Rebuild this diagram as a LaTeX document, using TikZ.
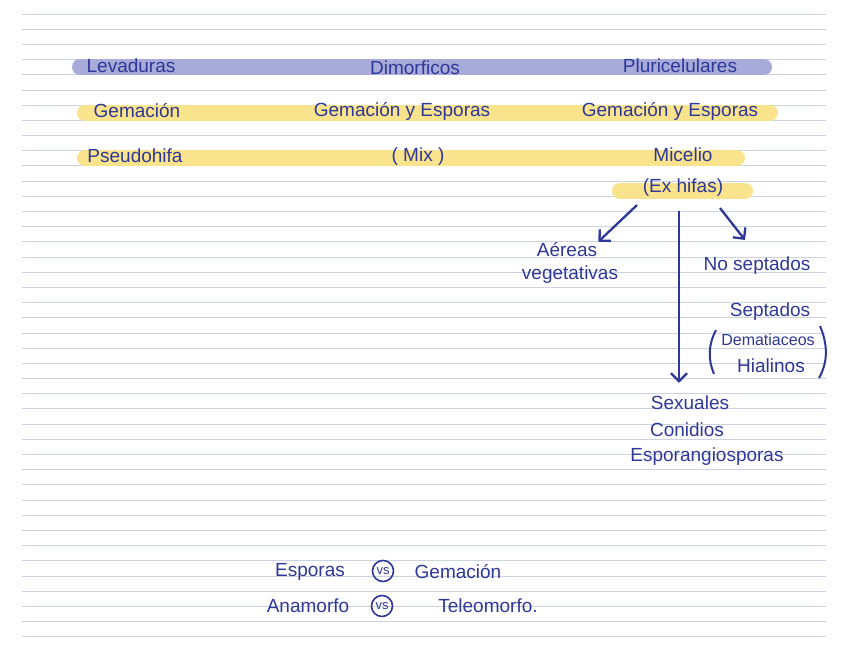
\documentclass[tikz,border=0pt]{standalone}
\usepackage{fontspec}
\setmainfont{Liberation Sans}
\usetikzlibrary{arrows.meta,positioning}
\definecolor{tinta}{RGB}{46,56,152}
\definecolor{lila}{RGB}{168,170,218}
\definecolor{amarillo}{RGB}{249,227,140}
\definecolor{renglon}{RGB}{204,211,224}
\tikzset{
  nota/.style={text=tinta,font=\fontsize{19}{21}\selectfont,inner sep=1pt},
  flecha/.style={draw=tinta,line width=2.3pt,-{Straight Barb[length=8pt,width=16pt]}},
  circulo/.style={draw=tinta,text=tinta,circle,line width=1.6pt,inner sep=0pt,minimum size=21pt,font=\fontsize{13}{14}\selectfont},
  resalte/.style={line width=16pt,line cap=round},
}
\begin{document}
\begin{tikzpicture}[x=1pt,y=-1pt]
\useasboundingbox[fill=white] (0,0) rectangle (848,646);
\foreach \i in {0,...,41}{
\draw[renglon,line width=0.9pt] (22,14+15.19*\i)--(826,14+15.19*\i);
}
\draw[resalte,lila] (80,67)--(764,67);
\draw[resalte,amarillo] (85,113)--(770,113);
\draw[resalte,amarillo] (85,158)--(737,158);
\draw[resalte,amarillo] (620,191)--(745,191);
\node[nota] (levaduras) at (131,66) {Levaduras};
\node[nota] (dimorficos) at (415,68) {Dimorficos};
\node[nota] (pluri) at (680,66) {Pluricelulares};
\node[nota] (gem1) at (137,111) {Gemación};
\node[nota] (gem2) at (402,111) {Gemación y Esporas};
\node[nota] (gem3) at (670,111) {Gemación y Esporas};
\node[nota] (pseudo) at (135,156) {Pseudohifa};
\node[nota] (mix) at (418,157) {( Mix )};
\node[nota] (micelio) at (683,155) {Micelio};
\node[nota] (exhifas) at (683,188) {(Ex hifas)};
\node[nota] (aereas) at (567,250) {Aéreas};
\node[nota] (vegetativas) at (570,275) {vegetativas};
\node[nota] (noseptados) at (757,266) {No septados};
\node[nota] (septados) at (770,312) {Septados};
\node[nota,font=\fontsize{16}{18}\selectfont] (dematiaceos) at (768,340) {Dematiaceos};
\node[nota] (hialinos) at (771,366) {Hialinos};
\draw[tinta,line width=2pt] (716,330) .. controls (708,345) and (708,360) .. (714,374);
\draw[tinta,line width=2pt] (820,326) .. controls (828,345) and (828,362) .. (819,378);
\node[nota] (sexuales) at (690,403) {Sexuales};
\node[nota] (conidios) at (687,430) {Conidios};
\node[nota] (esporang) at (707,457) {Esporangiosporas};
\draw[flecha] ([xshift=-46pt,yshift=-7pt]exhifas.south) -- (aereas.north east);
\draw[flecha] ([xshift=-4pt,yshift=-13pt]exhifas.south) -- ([xshift=-11pt,yshift=12pt]sexuales.north);
\draw[flecha] ([xshift=37pt,yshift=-10pt]exhifas.south) -- ([xshift=-12pt,yshift=16pt]noseptados.north);
\node[nota] (esporas) at (310,572) {Esporas};
\node[circulo] (vs1) at (383,571) {vs};
\node[nota] (gem4) at (458,572) {Gemación};
\node[nota] (anamorfo) at (308,606) {Anamorfo};
\node[circulo] (vs2) at (382,606) {vs};
\node[nota] (teleomorfo) at (488,606) {Teleomorfo.};
\end{tikzpicture}
\end{document}
